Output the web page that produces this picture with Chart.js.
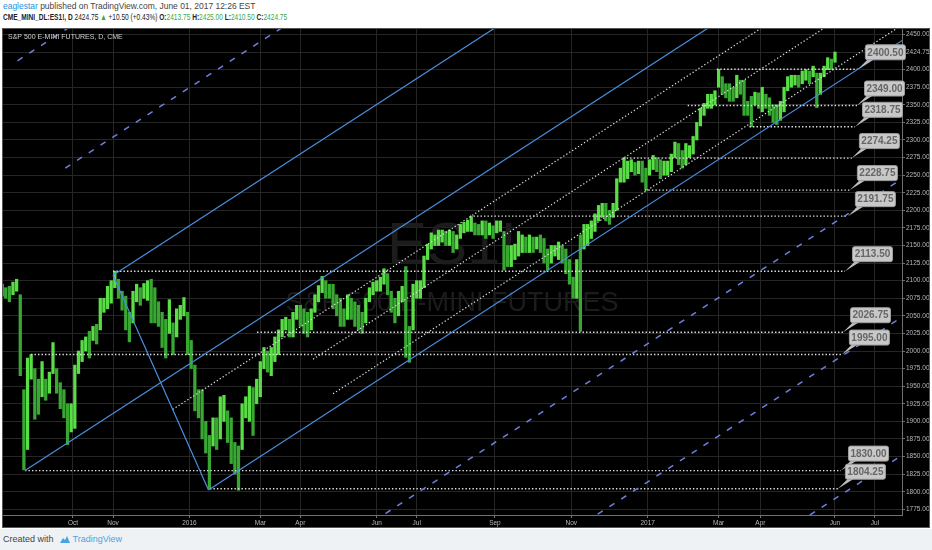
<!DOCTYPE html>
<html>
<head>
<meta charset="utf-8">
<script src="https://cdn.jsdelivr.net/npm/chart.js@4.4.0/dist/chart.umd.min.js"></script>
<style>
  html, body { margin: 0; padding: 0; }
  body { width: 932px; height: 550px; background: #eff2f5; font-family: "Liberation Sans", Arial, sans-serif; overflow: hidden; position: relative; }
  #hdr { position: absolute; left: 0; top: 0; width: 932px; height: 28px; background: #fff; }
  #hdr .l1 { position: absolute; left: 3px; top: 1px; font-size: 9px; color: #444; white-space: nowrap; transform: scaleX(0.94); transform-origin: 0 0; }
  #hdr .l2 { position: absolute; left: 3px; top: 12px; font-size: 9px; color: #222; white-space: nowrap; transform: scaleX(0.73); transform-origin: 0 0; }
  .user { color: #2a8fd6; }
  .g { color: #3aa84a; }
  #wrap { position: absolute; left: 0; top: 28px; width: 932px; height: 501px; background: #fff; }
  #ftr { position: absolute; left: 3px; top: 534px; font-size: 9px; color: #444; white-space: nowrap; }
  #ftr svg { vertical-align: -2px; margin: 0 2px 0 5px; }
  #ftr .tv { color: #4aa3df; }
</style>
</head>
<body>
<div id="hdr">
  <div class="l1"><span class="user">eaglestar</span> published on TradingView.com, June 01, 2017 12:26 EST</div>
  <div class="l2"><b>CME_MINI_DL:ES1!, D</b> 2424.75 <span class="g">&#9650;</span> +10.50 (+0.43%) <b>O:</b><span class="g">2413.75</span> <b>H:</b><span class="g">2425.00</span> <b>L:</b><span class="g">2410.50</span> <b>C:</b><span class="g">2424.75</span></div>
</div>
<div id="wrap"><canvas id="esChart" width="932" height="501"></canvas></div>
<div id="ftr">Created with<svg width="12" height="9" viewBox="0 0 12 9"><path d="M1 8 L4 3 L6 5 L8 1 L11 8 Z" fill="#4aa3df"/></svg><span class="tv">TradingView</span></div>

<script>
// Barres de 2 séances : [plus bas, plus haut]
// index de séance : 0 = 1er oct. 2015
const barStep = 2;

const firstBar2015 = -39;
const bars2015 = [
    [2078, 2095], [2075, 2090], [2070, 2092], [2080, 2098], [2085, 2102], [1965, 2080], [1831, 1945], [1860, 1990],
    [1960, 1995], [1903, 1975], [1910, 1960], [1935, 1985], [1930, 1960], [1940, 1970], [1968, 2012], [1940, 1975],
    [1918, 1955], [1905, 1945], [1867, 1925], [1885, 1925],
    [1890, 1980], [1968, 2000], [1985, 2015], [2000, 2020], [1990, 2028], [2015, 2035], [2010, 2038], [2030, 2075],
    [2055, 2075], [2060, 2092], [2068, 2100], [2090, 2113.5], [2075, 2102], [2058, 2085], [2030, 2078], [2013, 2055],
    [2040, 2085], [2070, 2095], [2065, 2090], [2075, 2096], [2072, 2100], [2040, 2102], [2040, 2090], [2035, 2070],
    [2005, 2055], [1990, 2045], [2025, 2073], [1995, 2040], [2020, 2060], [2045, 2065], [2050, 2076], [1995, 2055]
];

const firstBar2016 = 65;
const bars2016 = [
    [1975, 2015], [1915, 1980], [1905, 1945], [1875, 1945], [1855, 1900], [1804.25, 1880], [1865, 1905], [1860, 1905],
    [1875, 1935], [1900, 1937], [1870, 1915], [1840, 1905], [1825, 1870], [1802, 1865], [1860, 1925], [1905, 1935],
    [1900, 1950], [1880, 1948], [1925, 1960], [1935, 1985], [1975, 2005], [1970, 2000], [1965, 2005], [1985, 2020],
    [1995, 2030], [2020, 2045], [2030, 2048], [2020, 2045], [2020, 2055], [2045, 2065], [2035, 2065], [2025, 2060],
    [2020, 2055], [2030, 2060], [2055, 2080], [2070, 2093], [2083, 2106], [2075, 2100], [2075, 2095], [2060, 2095],
    [2050, 2080], [2035, 2075], [2035, 2060], [2045, 2080], [2045, 2075], [2035, 2070], [2030, 2065], [2025, 2055],
    [2040, 2075], [2070, 2090], [2080, 2098], [2085, 2100], [2085, 2105], [2095, 2117], [2080, 2110], [2055, 2085],
    [2040, 2075], [2050, 2085], [2070, 2092], [1991, 2120], [1984, 2035], [2030, 2095], [2075, 2100], [2075, 2100],
    [2090, 2135], [2130, 2152], [2145, 2168], [2150, 2165], [2150, 2172], [2155, 2172], [2150, 2170], [2150, 2172],
    [2140, 2170], [2145, 2165], [2160, 2180], [2168, 2183], [2170, 2186], [2170, 2191], [2165, 2182], [2165, 2180],
    [2165, 2185], [2160, 2185], [2165, 2182], [2160, 2178], [2168, 2185], [2170, 2185], [2115, 2170], [2120, 2150],
    [2120, 2150], [2130, 2152], [2135, 2170], [2140, 2165], [2140, 2162], [2140, 2165], [2140, 2162], [2145, 2162],
    [2140, 2165], [2125, 2160], [2115, 2145], [2125, 2150], [2135, 2150], [2130, 2155], [2125, 2150], [2110, 2145],
    [2095, 2130], [2075, 2105], [2075, 2130], [2028, 2165], [2145, 2180], [2150, 2180], [2160, 2185], [2170, 2195],
    [2185, 2207], [2190, 2210], [2185, 2210], [2180, 2200], [2190, 2210], [2200, 2245], [2240, 2260], [2240, 2274.25],
    [2245, 2270], [2255, 2272], [2250, 2268], [2252, 2270], [2240, 2270], [2229, 2260]
];

const firstBar2017 = 317;
const bars2017 = [
    [2250, 2272], [2258, 2278], [2255, 2275], [2245, 2272], [2250, 2270], [2250, 2270], [2255, 2280], [2275, 2297],
    [2265, 2295], [2260, 2285], [2265, 2295], [2275, 2292], [2280, 2305], [2300, 2325], [2320, 2345], [2335, 2352],
    [2345, 2365], [2345, 2365], [2350, 2370], [2375, 2400.5], [2365, 2390], [2360, 2380], [2355, 2380], [2355, 2375],
    [2360, 2392], [2365, 2385], [2335, 2385], [2335, 2355], [2318.75, 2362], [2350, 2368], [2345, 2367], [2340, 2375],
    [2345, 2365], [2335, 2360], [2325, 2350], [2322, 2350], [2328, 2355], [2340, 2375], [2370, 2390], [2375, 2392],
    [2378, 2392], [2375, 2392], [2380, 2398], [2385, 2400], [2380, 2398], [2390, 2405], [2346, 2395], [2365, 2395],
    [2390, 2405], [2400, 2417], [2400, 2415], [2410.5, 2425]
];

// Axe du temps
const monthTicks = [0, 22, 64, 103, 125, 167, 189, 232, 274, 316, 355, 378, 419, 441];
const monthLabels = ['Oct', 'Nov', '2016', 'Mar', 'Apr', 'Jun', 'Jul', 'Sep', 'Nov', '2017', 'Mar', 'Apr', 'Jun', 'Jul'];

// Axe des prix
const priceTicks = [1775, 1800, 1825, 1850, 1875, 1900, 1925, 1950, 1975, 2000, 2025, 2050, 2075, 2100, 2125,
    2150, 2175, 2200, 2225, 2250, 2275, 2300, 2325, 2350, 2375, 2400, 2424.75, 2450];

// Niveaux horizontaux (prix, séance de départ, séance de fin)
const levelPrices = [2400.50, 2349.00, 2318.75, 2274.25, 2228.75, 2191.75, 2113.50, 2026.75, 1995.00, 1830.00, 1804.25];
const levelFrom = [354, 338, 372, 302.5, 314.5, 218.3, 22, 101.2, -23.1, -26.4, 75.3];
const levelTo = [431.6, 431.1, 430.0, 428.3, 427.2, 426.1, 424.5, 423.4, 422.8, 422.3, 420.6];

// Fourchette d'Andrews : pivots A, B, C (séances), prix de A, pente et demi-largeur en points
const forkBars = [-26.4, 22, 74.5];
const forkPrice = 1830;
const forkSlope = 1.675;
const forkHalf = 196.5;
const dottedLevels = [0.25];
const dashedLevels = [-3, -2, 2, 3, 4];
// Parallèles supplémentaires (écart sous la médiane en points, séance de départ)
const extraOffsets = [107, 174.5];
const extraFrom = [132, 143];
const farEnd = 470;

const BLUE = '#4a8fe0';
const DASH_BLUE = '#6f7fe0';
const DOT = '#e2e2e2';

function median(i) {
    return forkPrice + forkSlope * (i - forkBars[0]);
}

function parallel(i0, off) {
    return [{ x: i0, y: median(i0) - off }, { x: farEnd, y: median(farEnd) - off }];
}

function lineSet(data, color, width, dash) {
    return {
        type: 'line', data: data, borderColor: color, borderWidth: width, borderDash: dash || [],
        pointRadius: 0, fill: false, tension: 0, order: 0
    };
}

// Construire les barres
const candles = [];
[[firstBar2015, bars2015], [firstBar2016, bars2016], [firstBar2017, bars2017]].forEach(([start, bars]) => {
    bars.forEach((b, k) => candles.push({ x: start + k * barStep, y: b }));
});

const datasets = [];
const B = forkBars[1], C = forkBars[2];

// médiane, manche, parallèles
datasets.push(lineSet(parallel(forkBars[0], 0), BLUE, 1.2));
datasets.push(lineSet([{ x: B, y: median(B) + forkHalf }, { x: C, y: median(C) - forkHalf }], BLUE, 1.2));
datasets.push(lineSet(parallel(B, -forkHalf), BLUE, 1.2));
datasets.push(lineSet(parallel(C, forkHalf), BLUE, 1.2));

dottedLevels.forEach(k => {
    const start = B + (0.5 + k / 2) * (C - B);
    datasets.push(lineSet(parallel(start, k * forkHalf), DOT, 1.2, [1.3, 2.2]));
});
dashedLevels.forEach(k => {
    const start = B + (0.5 + k / 2) * (C - B);
    datasets.push(lineSet(parallel(start, k * forkHalf), DASH_BLUE, 1.5, [6, 8]));
});
extraOffsets.forEach((off, k) => {
    datasets.push(lineSet(parallel(extraFrom[k], off), DOT, 1.2, [1.3, 2.2]));
});
levelPrices.forEach((p, k) => {
    datasets.push(lineSet([{ x: levelFrom[k], y: p }, { x: levelTo[k], y: p }], DOT, 1.4, [1.4, 2.1]));
});

datasets.push({
    type: 'bar',
    data: candles,
    barThickness: 2.6,
    borderWidth: 0,
    order: 5,
    clip: 0,
    backgroundColor: (ctx) => {
        const i = ctx.dataIndex;
        if (i === 0) return '#5ade46';
        const cur = candles[i].y, prev = candles[i - 1].y;
        return (cur[0] + cur[1]) >= (prev[0] + prev[1]) ? '#5ade46' : '#38a832';
    }
});

const chartPlugin = {
    id: 'tvLook',
    beforeDraw(chart) {
        const c = chart.ctx;
        c.save();
        c.fillStyle = '#000';
        c.fillRect(3, 0, 926, 500);
        c.restore();
    },
    beforeDatasetsDraw(chart) {
        const c = chart.ctx;
        c.save();
        c.fillStyle = '#1c1c1c';
        c.textAlign = 'center';
        c.textBaseline = 'middle';
        c.font = '60px "Liberation Sans", Arial';
        c.fillText('ES1!', 452, 219);
        c.font = '27px "Liberation Sans", Arial';
        c.fillText('S&P 500 E-MINI FUTURES', 452, 276);
        c.restore();
    },
    afterDraw(chart) {
        const c = chart.ctx;
        const xs = chart.scales.x, ys = chart.scales.y;
        c.save();
        // titre
        c.fillStyle = '#d0d0d0';
        c.font = '7px "Liberation Sans", Arial';
        c.textBaseline = 'middle';
        c.fillText('S&P 500 E-MINI FUTURES, D, CME', 8, 9);

        // étiquettes des niveaux
        levelPrices.forEach((p, k) => {
            const x1 = xs.getPixelForValue(levelTo[k]);
            const y = ys.getPixelForValue(p);
            const left = x1 + 7, top = y - 25, w = 40, h = 15;
            c.fillStyle = '#bdbdbd';
            c.beginPath();
            c.moveTo(x1, y);
            c.lineTo(left + 3, top + h);
            c.lineTo(left + 9, top + h);
            c.closePath();
            c.fill();
            c.beginPath();
            c.roundRect(left + 0.5, top + 0.5, w, h, 2);
            c.fillStyle = '#c8c8c8';
            c.fill();
            c.strokeStyle = '#9d9d9d';
            c.lineWidth = 1;
            c.stroke();
            c.fillStyle = '#666';
            c.font = 'bold 10px "Liberation Sans", Arial';
            c.textAlign = 'center';
            c.fillText(p.toFixed(2), left + w / 2 + 0.5, top + h / 2 + 1);
        });

        // cadre
        c.strokeStyle = '#555';
        c.lineWidth = 1;
        c.strokeRect(2.5, 0.5, 927, 499);
        c.restore();
    }
};

const ctx = document.getElementById('esChart').getContext('2d');
const chartInstance = new Chart(ctx, {
    type: 'bar',
    data: { datasets: datasets },
    options: {
        responsive: false,
        animation: false,
        events: [],
        layout: { padding: { left: 3, top: 0, right: 0, bottom: 0 } },
        plugins: { legend: { display: false }, tooltip: { enabled: false } },
        scales: {
            x: {
                type: 'linear',
                min: -38.49,
                max: 455.85,
                offset: false,
                grid: { color: '#262626', offset: false, tickLength: 3, tickColor: '#707070' },
                border: { display: true, color: '#707070' },
                afterBuildTicks: (scale) => { scale.ticks = monthTicks.map(v => ({ value: v })); },
                afterFit: (scale) => { scale.height = 14; scale.paddingLeft = 0; scale.paddingRight = 0; },
                ticks: {
                    autoSkip: false, maxRotation: 0, padding: 1.5, color: '#b8b8b8',
                    font: { family: '"Liberation Sans", Arial', size: 6.5 },
                    callback: (v) => { const k = monthTicks.indexOf(v); return k >= 0 ? monthLabels[k] : ''; }
                }
            },
            y: {
                position: 'right',
                min: 1766.9,
                max: 2459.2,
                grid: { color: '#262626', tickLength: 3, tickColor: '#707070' },
                border: { display: true, color: '#707070' },
                afterBuildTicks: (scale) => { scale.ticks = priceTicks.map(v => ({ value: v })); },
                afterFit: (scale) => { scale.width = 30; scale.paddingTop = 0; scale.paddingBottom = 0; },
                ticks: {
                    autoSkip: false, padding: 1, color: '#b8b8b8',
                    font: { family: '"Liberation Sans", Arial', size: 6.5 },
                    callback: (v) => Number(v).toFixed(2)
                }
            }
        }
    },
    plugins: [chartPlugin]
});
</script>
</body>
</html>
